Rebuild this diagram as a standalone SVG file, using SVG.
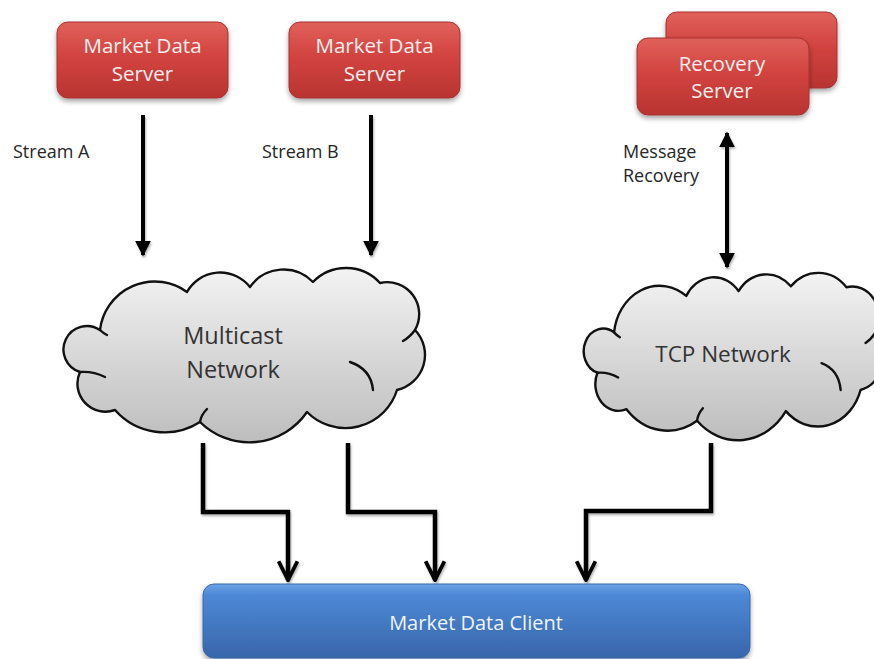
<svg xmlns="http://www.w3.org/2000/svg" xmlns:xlink="http://www.w3.org/1999/xlink" width="874" height="659" viewBox="0 0 874 659">
<defs>
<style>
.red{fill:url(#gRed);stroke:#a83030;stroke-width:1;filter:url(#sh)}
.blue{fill:url(#gBlue);stroke:#3a69a8;stroke-width:1;filter:url(#sh)}
.bt{font-family:"Open Sans","Noto Sans",sans-serif;font-size:20.5px;fill:#fbeeee;text-anchor:middle}
.ct{font-family:"Open Sans","Noto Sans",sans-serif;font-size:23.5px;fill:#333;text-anchor:middle}
.lb{font-family:"Open Sans","Noto Sans",sans-serif;font-size:18px;fill:#262626}
.cloud{fill:url(#gCloud);stroke:#111;stroke-width:2.4;stroke-linejoin:round;vector-effect:non-scaling-stroke}
.crease{fill:none;stroke:#111;stroke-width:2.4;stroke-linecap:round;vector-effect:non-scaling-stroke}
.ln{fill:none;stroke:#000;stroke-width:4;stroke-linejoin:miter}
.ln2{fill:none;stroke:#000;stroke-width:4.5;stroke-linejoin:miter}
</style>
<linearGradient id="gRed" x1="0" y1="0" x2="0" y2="1">
<stop offset="0" stop-color="#e0615b"/>
<stop offset="0.45" stop-color="#d2433f"/>
<stop offset="1" stop-color="#b83431"/>
</linearGradient>
<linearGradient id="gBlue" x1="0" y1="0" x2="0" y2="1">
<stop offset="0" stop-color="#6aa3e6"/>
<stop offset="0.15" stop-color="#4d88d6"/>
<stop offset="1" stop-color="#3866ab"/>
</linearGradient>
<linearGradient id="gCloud" x1="0" y1="0" x2="0" y2="1">
<stop offset="0" stop-color="#f3f3f3"/>
<stop offset="1" stop-color="#bdbdbd"/>
</linearGradient>
<filter id="sh" x="-10%" y="-20%" width="120%" height="150%">
<feDropShadow dx="0" dy="3" stdDeviation="2.5" flood-color="#000" flood-opacity="0.35"/>
</filter>
<filter id="lsh" x="-20%" y="-20%" width="140%" height="140%">
<feDropShadow dx="1" dy="2" stdDeviation="1.2" flood-color="#000" flood-opacity="0.3"/>
</filter>
<marker id="tri" viewBox="0 0 10 10" refX="9" refY="5" markerWidth="4" markerHeight="4" orient="auto-start-reverse" markerUnits="strokeWidth">
<path d="M0,0 L10,5 L0,10 z" fill="#000"/>
</marker>
<marker id="vee" viewBox="0 0 12 12" refX="11" refY="6" markerWidth="5" markerHeight="5" orient="auto" markerUnits="strokeWidth">
<path d="M1,1 L11,6 L1,11" fill="none" stroke="#000" stroke-width="2"/>
</marker>
<g id="cloudShape">
<path class="cloud" d="M35,65 A55,55 0 0 1 122,27 A38,38 0 0 1 185,22 A41,41 0 0 1 248,17 A46,46 0 0 1 315,18 A32,32 0 0 1 350,65 A36,36 0 0 1 332,125 A54,54 0 0 1 242,147 A70,70 0 0 1 135,157 A66,66 0 0 1 50,145 A28,28 0 0 1 15,107 A23.5,23.5 0 1 1 35,65 Z"/>
<path class="crease" d="M15,107 Q28,106 40,112"/>
<path class="crease" d="M285,97 Q306,104 308,125"/>
<path class="crease" d="M135,157 Q136,150 142,144"/>
<path class="crease" d="M350,65 Q345,72 338,76"/>
<path class="crease" d="M35,65 Q38,68 42,70"/>
</g>
</defs>
<rect width="874" height="659" fill="#fff"/>

<g id="connectors" filter="url(#lsh)">
<path class="ln" d="M143,115 V255" marker-end="url(#tri)"/>
<path class="ln" d="M371,115 V255" marker-end="url(#tri)"/>
<path class="ln" d="M727,133 V267" marker-start="url(#tri)" marker-end="url(#tri)"/>
<path class="ln2" d="M203,443 V512 H288 V580" marker-end="url(#vee)"/>
<path class="ln2" d="M348,443 V512 H435 V580" marker-end="url(#vee)"/>
<path class="ln2" d="M711,443 V511 H586 V580" marker-end="url(#vee)"/>
</g>

<g id="label-stream-a"><text class="lb" x="13" y="158">Stream A</text></g>
<g id="label-stream-b"><text class="lb" x="262" y="158">Stream B</text></g>
<g id="label-message-recovery"><text class="lb" x="623" y="158">Message</text><text class="lb" x="623" y="182">Recovery</text></g>

<g id="mds-a">
<rect class="red" x="57" y="22" width="171" height="76" rx="11"/>
<text class="bt" x="142.5" y="53">Market Data</text>
<text class="bt" x="142.5" y="81">Server</text>
</g>
<g id="mds-b">
<rect class="red" x="289" y="22" width="171" height="76" rx="11"/>
<text class="bt" x="374.5" y="53">Market Data</text>
<text class="bt" x="374.5" y="81">Server</text>
</g>
<g id="recovery-server">
<rect class="red" x="666" y="12" width="171" height="76" rx="11"/>
<rect class="red" x="637" y="38" width="172" height="77" rx="11"/>
<text class="bt" x="722" y="71">Recovery</text>
<text class="bt" x="722" y="98">Server</text>
</g>

<g id="multicast-network">
<use xlink:href="#cloudShape" transform="translate(65,265)"/>
<text class="ct" x="233" y="344">Multicast</text>
<text class="ct" x="233" y="378">Network</text>
</g>
<g id="tcp-network">
<use xlink:href="#cloudShape" transform="translate(585,270) scale(0.83,0.96)"/>
<text class="ct" x="723" y="362" style="font-size:22.5px">TCP Network</text>
</g>

<g id="market-data-client">
<rect class="blue" x="203" y="584" width="547" height="74" rx="11"/>
<text class="bt" x="476" y="630" style="font-size:20px;fill:#eef4fc">Market Data Client</text>
</g>
</svg>
